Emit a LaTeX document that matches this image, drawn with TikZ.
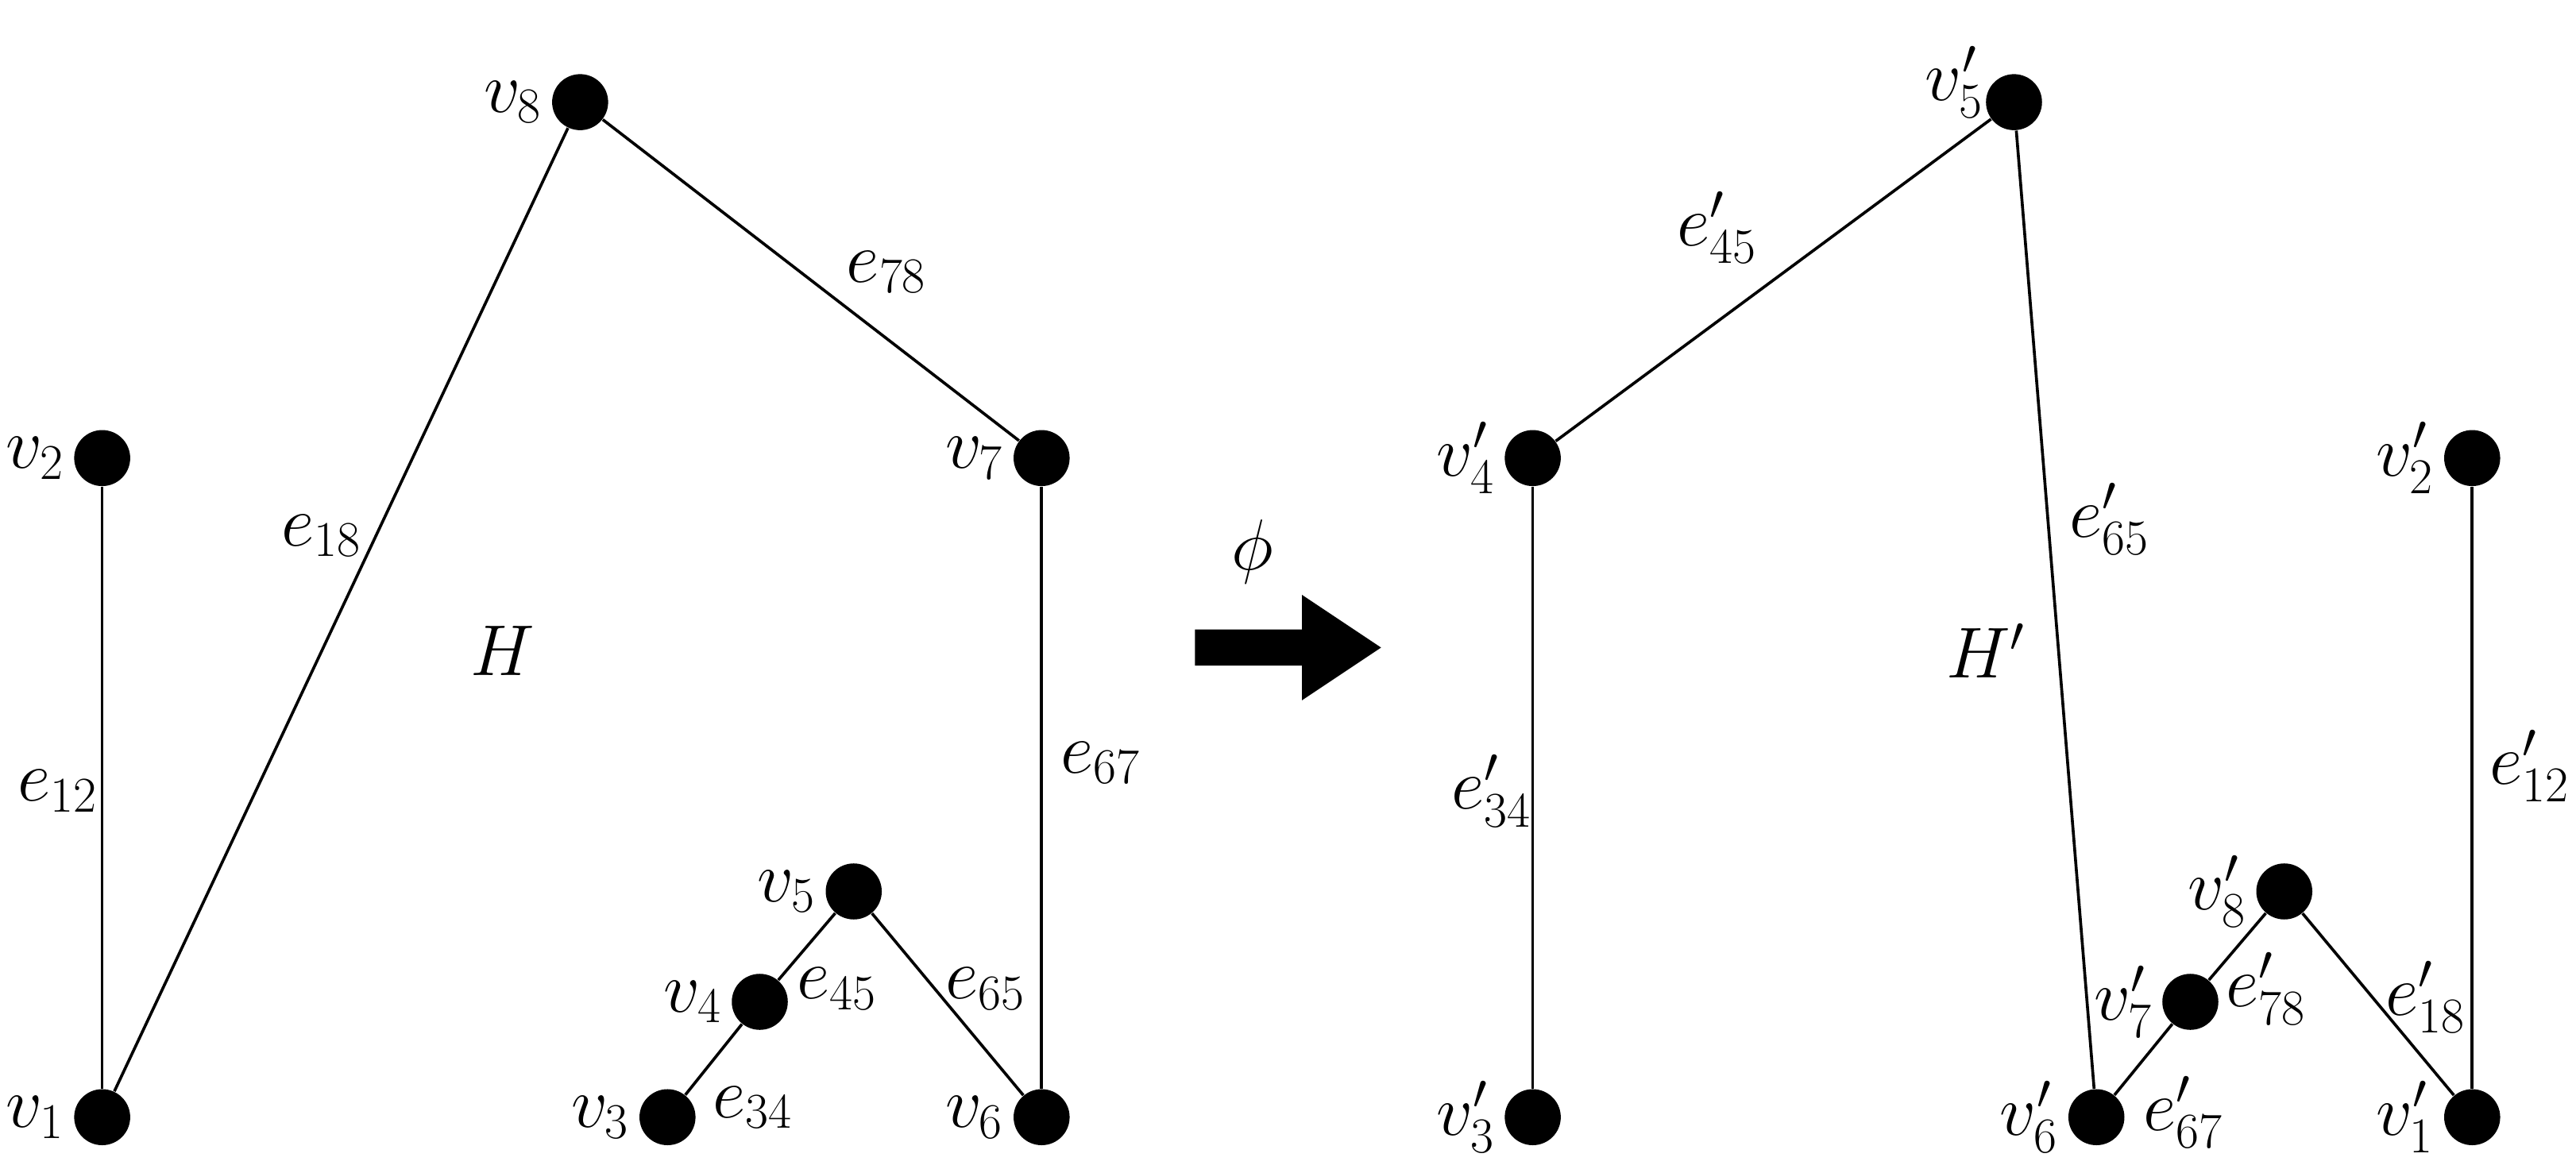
\documentclass[tikz,border=0pt]{standalone}
\usetikzlibrary{positioning}
\begin{document}
\begin{tikzpicture}[x=0.02cm,y=-0.02cm,
  vert/.style={circle, fill=black, inner sep=0pt, minimum size=0.68cm},
  lbl/.style={font=\fontsize{24}{28}\selectfont, inner sep=1pt},
  edge/.style={line width=1pt}]
\useasboundingbox (0,0) rectangle (1563,709);

% Vertices of H
\node[vert] (v1) at (62,678) {};
\node[vert] (v2) at (62,278) {};
\node[vert] (v8) at (352,62) {};
\node[vert] (v7) at (632,278) {};
\node[vert] (v6) at (632,678) {};
\node[vert] (v5) at (518,541) {};
\node[vert] (v4) at (461,608) {};
\node[vert] (v3) at (405,678) {};

% Vertices of H'
\node[vert] (w3) at (930,678) {};
\node[vert] (w4) at (930,278) {};
\node[vert] (w5) at (1222,62) {};
\node[vert] (w6) at (1272,678) {};
\node[vert] (w7) at (1329,608) {};
\node[vert] (w8) at (1386,541) {};
\node[vert] (w1) at (1500,678) {};
\node[vert] (w2) at (1500,278) {};

% Edges
\draw[edge] (v1) -- (v2);
\draw[edge] (v1) -- (v8);
\draw[edge] (v8) -- (v7);
\draw[edge] (v7) -- (v6);
\draw[edge] (v6) -- (v5);
\draw[edge] (v5) -- (v4);
\draw[edge] (v4) -- (v3);
\draw[edge] (w3) -- (w4);
\draw[edge] (w4) -- (w5);
\draw[edge] (w5) -- (w6);
\draw[edge] (w6) -- (w7);
\draw[edge] (w7) -- (w8);
\draw[edge] (w8) -- (w1);
\draw[edge] (w1) -- (w2);

% Vertex labels
\node[lbl, left=2pt of v1] {$v_1$};
\node[lbl, left=2pt of v2] {$v_2$};
\node[lbl, left=2pt of v3] {$v_3$};
\node[lbl, left=2pt of v4] {$v_4$};
\node[lbl, left=2pt of v5] {$v_5$};
\node[lbl, left=2pt of v6] {$v_6$};
\node[lbl, left=2pt of v7] {$v_7$};
\node[lbl, left=2pt of v8] {$v_8$};
\node[lbl, left=2pt of w1] {$v'_1$};
\node[lbl, left=2pt of w2] {$v'_2$};
\node[lbl, left=2pt of w3] {$v'_3$};
\node[lbl, left=2pt of w4] {$v'_4$};
\node[lbl] at (1186,50) {$v'_5$};
\node[lbl, left=2pt of w6] {$v'_6$};
\node[lbl, left=2pt of w7] {$v'_7$};
\node[lbl, left=2pt of w8] {$v'_8$};

% Edge labels
\node[lbl] (e12) at (35,480) {$e_{12}$};
\node[lbl] (e18) at (195,325) {$e_{18}$};
\node[lbl] (e78) at (538,165) {$e_{78}$};
\node[lbl] (e67) at (668,463) {$e_{67}$};
\node[lbl] (e65) at (598,600) {$e_{65}$};
\node[lbl] (e45) at (508,600) {$e_{45}$};
\node[lbl] (e34) at (457,672) {$e_{34}$};
\node[lbl] (f45) at (1042,138) {$e'_{45}$};
\node[lbl] (f65) at (1280,315) {$e'_{65}$};
\node[lbl] (f34) at (905,480) {$e'_{34}$};
\node[lbl] (f12) at (1535,465) {$e'_{12}$};
\node[lbl] (f18) at (1472,605) {$e'_{18}$};
\node[lbl] (f78) at (1375,600) {$e'_{78}$};
\node[lbl] (f67) at (1325,675) {$e'_{67}$};

% Graph names and map
\node[lbl] (H) at (305,395) {$H$};
\node[lbl] (Hp) at (1205,395) {$H'$};
\node[lbl] (phi) at (760,335) {$\phi$};
\fill (725,382) -- (790,382) -- (790,361) -- (838,393) -- (790,425) -- (790,404) -- (725,404) -- cycle;
\end{tikzpicture}
\end{document}
